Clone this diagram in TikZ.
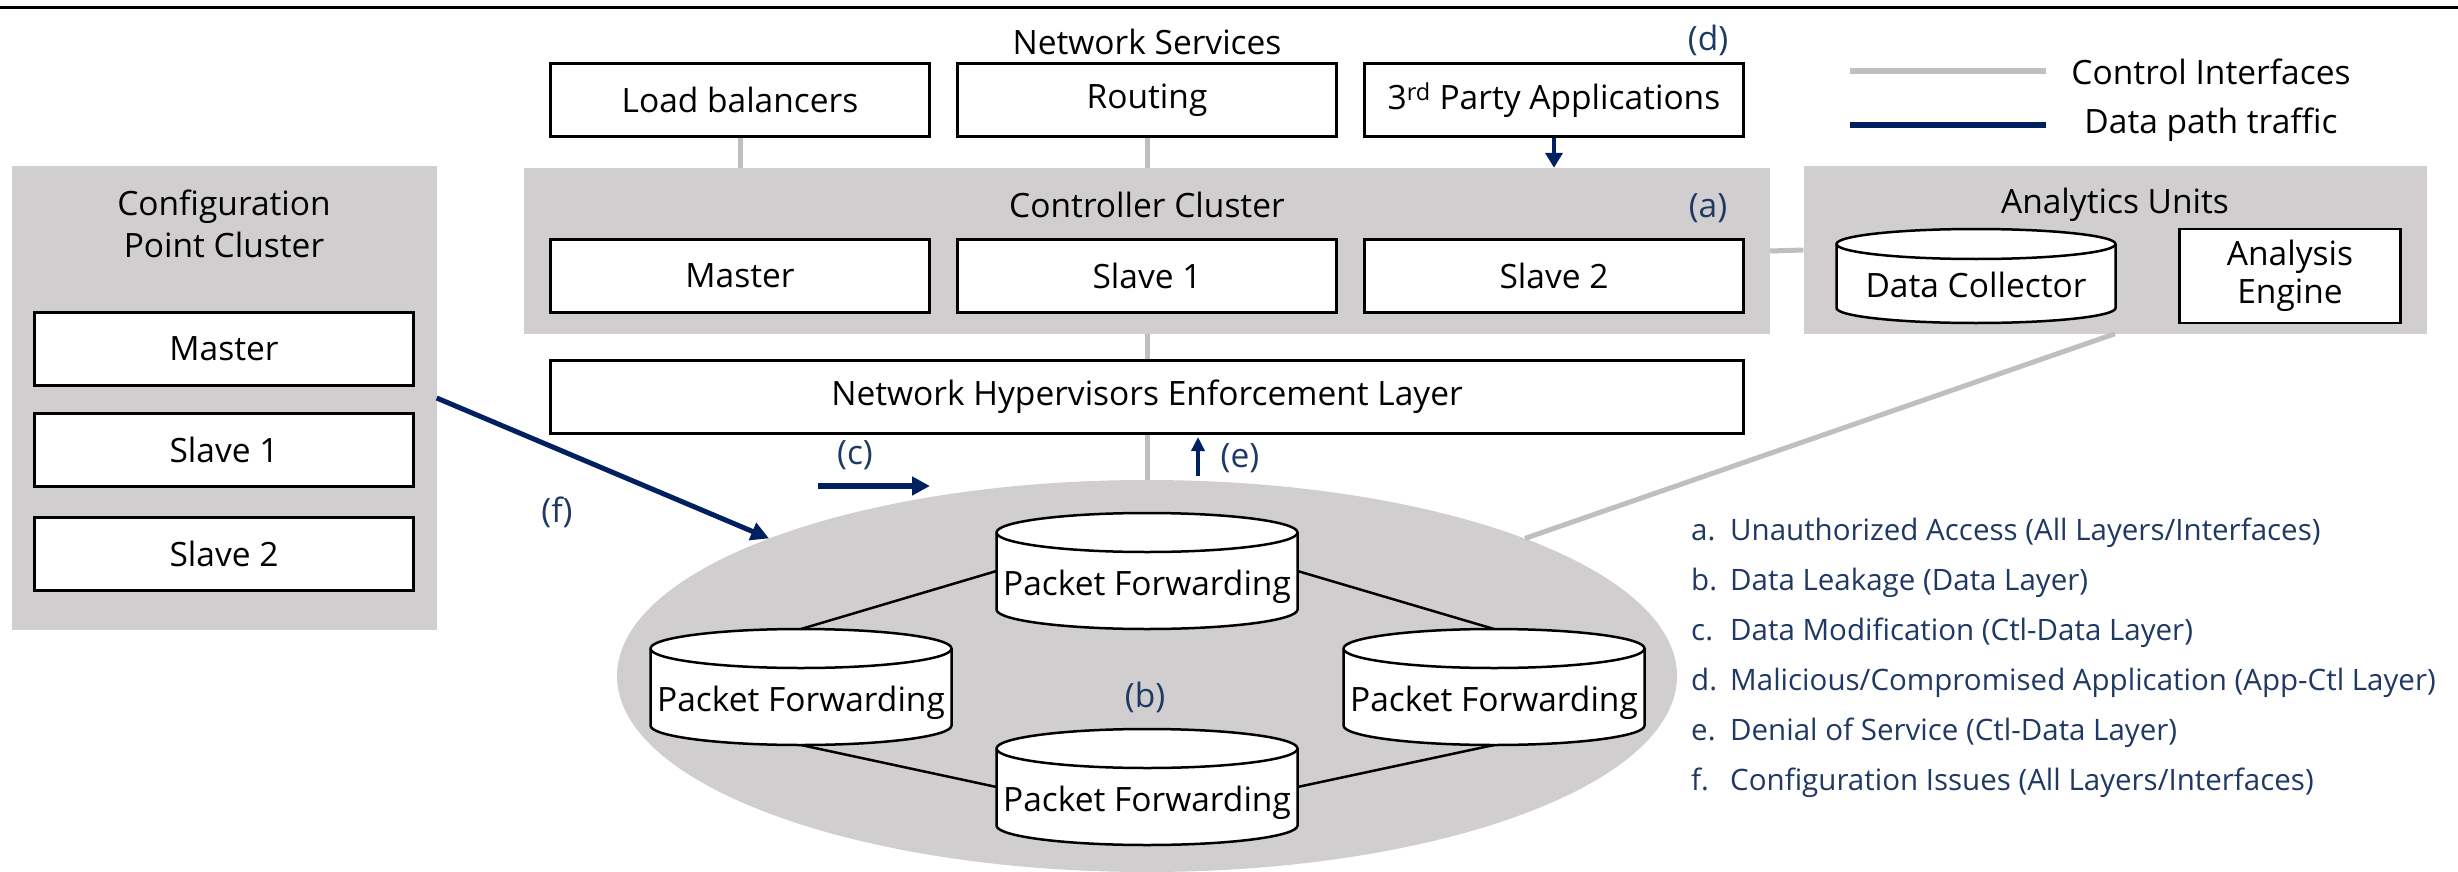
\documentclass[tikz,border=0pt]{standalone}
\usepackage{fontspec}
\setmainfont{Open Sans}
\usetikzlibrary{positioning,calc,arrows.meta,shapes.geometric}
\definecolor{panelgray}{RGB}{208,206,206}
\definecolor{ctlgray}{RGB}{191,191,191}
\definecolor{pathnavy}{RGB}{0,32,96}
\definecolor{tagblue}{RGB}{31,56,100}

% cylinder outline round a (not drawn) node: name, x radius, y radius of the caps
\newcommand\drawdb[3]{%
  \draw[line width=2.5pt, fill=white]
    ($(#1.north west)+(0,#3)$) -- ($(#1.south west)+(0,-#3)$)
    arc[start angle=180, end angle=360, x radius=#2pt, y radius=#3pt]
    -- ($(#1.north east)+(0,#3)$)
    arc[start angle=0, end angle=180, x radius=#2pt, y radius=#3pt] -- cycle;
  \draw[line width=2.5pt] ($(#1.north west)+(0,#3)$)
    arc[start angle=180, end angle=360, x radius=#2pt, y radius=#3pt];}

\begin{document}
\begin{tikzpicture}[
    x=1pt, y=-1pt,
    font=\fontsize{33.5}{42}\selectfont,
    box/.style={draw, line width=2.5pt, fill=white, align=center, inner sep=0pt, minimum width=379pt, minimum height=73pt},
    panel/.style={fill=panelgray, inner sep=0pt},
    dbbox/.style={inner sep=0pt, outer sep=0pt},
    pf/.style={dbbox, minimum width=301pt, minimum height=116pt},
    dbtext/.style={inner sep=0pt, text height=24pt, text depth=0pt},
    ctl/.style={ctlgray, line width=5pt},
    dat/.style={pathnavy, line width=5pt, -{Triangle[length=18pt,width=18pt]}},
    tag/.style={text=tagblue, inner sep=0pt}
  ]
  \useasboundingbox (0,0) rectangle (2458,872);
  \coordinate (rulel) at (0,8);
  \coordinate (ruler) at (2458,8);
  \draw[line width=3pt] (rulel) -- (ruler);

  % --- Network services ---
  \node (ns) at (1147,42) {Network Services};
  \node[box] (lb) at (740,100) {Load balancers};
  \node[box] (rt) at (1147,100) {Routing};
  \node[box] (tp) at (1554,100) {3\textsuperscript{rd} Party Applications};
  \node[tag] (td) at (1708,40) {(d)};

  % --- Controller cluster ---
  \node[panel, minimum width=1246pt, minimum height=166pt] (cc) at (1147,251) {};
  \node (cct) at (1147,205) {Controller Cluster};
  \node[tag] (ta) at (1708,208) {(a)};
  \node[box] (cm)  at (740,276)  {Master};
  \node[box] (cs1) at (1147,276) {Slave 1};
  \node[box] (cs2) at (1554,276) {Slave 2};

  \node[box, minimum width=1193pt] (nhe) at (1147,397) {Network Hypervisors Enforcement Layer};

  % --- Configuration point cluster ---
  \node[panel, minimum width=425pt, minimum height=463pt] (cp) at (224,398) {};
  \node[align=center] (cpt) at (224,224) {Configuration\\Point Cluster};
  \node[box] (pm)  at (224,349) {Master};
  \node[box] (ps1) at (224,450) {Slave 1};
  \node[box] (ps2) at (224,554) {Slave 2};

  % --- Analytics units ---
  \node[panel, minimum width=623pt, minimum height=167pt] (au) at (2115,250) {};
  \node (aut) at (2115,205) {Analytics Units};
  \node[dbbox, minimum width=279pt, minimum height=94pt] (dc) at (1976,276) {};
  \drawdb{dc}{139.5}{15}
  \node[dbtext] (dc-t) at ($(dc)+(0,9)$) {Data Collector};
  \node[box, minimum width=221pt, minimum height=94pt, font=\fontsize{33.5}{38}\selectfont] (ae) at (2290,276) {Analysis\\Engine};

  % --- Data plane ---
  \node[ellipse, fill=panelgray, minimum width=1060pt, minimum height=392pt, inner sep=0pt] (dp) at (1147,676) {};
  \node[pf] (pf1) at (1147,571) {};
  \node[pf] (pf2) at (801,687)  {};
  \node[pf] (pf3) at (1494,687) {};
  \node[pf] (pf4) at (1147,787) {};
  \foreach \n in {pf1,pf2,pf3,pf4}{
    \drawdb{\n}{150.5}{19.5}
    \node[dbtext] (\n-t) at ($(\n)+(0,12)$) {Packet Forwarding};
  }
  \node[tag] (tb) at (1145,697) {(b)};
  \draw[line width=2.5pt] (pf2.north) -- (pf1.west);
  \draw[line width=2.5pt] (pf1.east) -- (pf3.north);
  \draw[line width=2.5pt] (pf2.south) -- (pf4.west);
  \draw[line width=2.5pt] (pf3.south) -- (pf4.east);

  % control interfaces
  \draw[ctl] (lb.south) -- (lb.south |- cc.north);
  \draw[ctl] (rt.south) -- (cc.north);
  \draw[ctl] (cc.east) -- (au.west);
  \draw[ctl] (cc.south) -- (nhe.north);
  \draw[ctl] (nhe.south) -- (dp.north);
  \draw[ctl] (au.south) -- (dp.20);

  % data path traffic
  \draw[dat, line width=4pt, -{Triangle[length=15pt,width=17pt]}] (tp.south) -- (tp.south |- cc.north);
  \draw[dat] (cp.east) -- (dp.160);
  \node[tag] (tf) at (557,512) {(f)};
  \coordinate (c1) at (818,486);
  \coordinate (c2) at (930,486);
  \draw[dat, line width=6pt] (c1) -- (c2);
  \node[tag] (tc) at (855,455) {(c)};
  \coordinate (e1) at (1198,476);
  \coordinate (e2) at (1198,437);
  \draw[dat, line width=4pt, -{Triangle[length=14pt,width=13pt]}] (e1) -- (e2);
  \node[tag] (te) at (1240,458) {(e)};

  % --- Legend ---
  \coordinate (lg1) at (1850,71);
  \coordinate (lg2) at (2046,71);
  \coordinate (lg3) at (1850,125);
  \coordinate (lg4) at (2046,125);
  \draw[ctl, line width=6pt] (lg1) -- (lg2);
  \draw[pathnavy, line width=6pt] (lg3) -- (lg4);
  \node (lgc) at (2211,72)  {Control Interfaces};
  \node (lgd) at (2211,125) {Data path traffic};

  \foreach \k/\t [count=\i from 0] in {a/{Unauthorized Access (All Layers/Interfaces)},
      b/{Data Leakage (Data Layer)}, c/{Data Modification (Ctl-Data Layer)},
      d/{Malicious/Compromised Application (App-Ctl Layer)},
      e/{Denial of Service (Ctl-Data Layer)}, f/{Configuration Issues (All Layers/Interfaces)}}
    \node[tag, anchor=west, font=\fontsize{29.5}{36}\selectfont] (item-\k) at (1691,533+50*\i) {\makebox[39pt][l]{\k.}\t};
\end{tikzpicture}
\end{document}
